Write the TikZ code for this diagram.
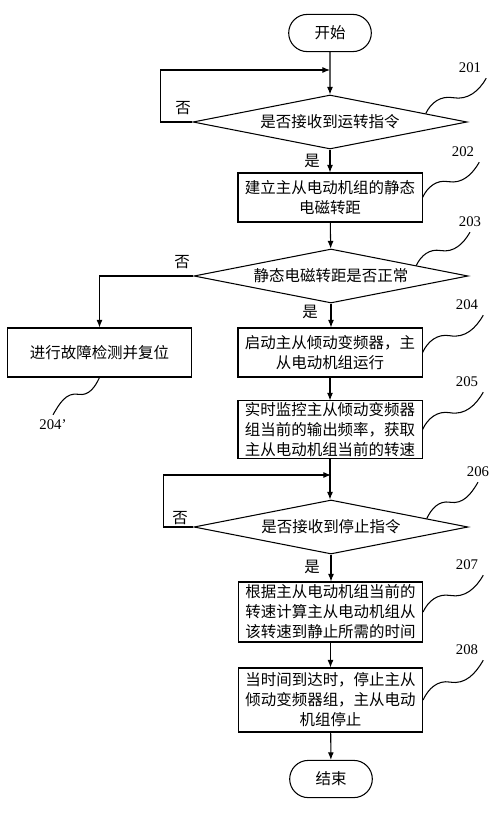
\documentclass[tikz,border=0pt]{standalone}
\usepackage{fontspec}
\setmainfont{Liberation Serif}
\newfontfamily\cjk{Noto Sans CJK SC}
\usetikzlibrary{shapes.geometric,shapes.misc,arrows.meta,calc}

\tikzset{
  cjktext/.style={font=\cjk\fontsize{11}{14.2}\selectfont},
  terminal/.style={draw, rounded rectangle, minimum width=2.3cm, minimum height=0.93cm, cjktext},
  decision/.style={draw, diamond, aspect=5, inner sep=0pt, minimum width=6.85cm, minimum height=1.35cm, cjktext},
  process/.style={draw, rectangle, minimum width=4.6cm, inner xsep=2pt, inner ysep=1pt, align=center, cjktext},
  tag/.style={font=\fontsize{10.5}{12}\selectfont},
  yesno/.style={cjktext},
  flow/.style={-{Latex[length=1.9mm,width=1.5mm]}}
}

\begin{document}
\begin{tikzpicture}[x=0.025cm, y=0.025cm, line width=0.75pt]
  \useasboundingbox (0,0) rectangle (500,-814);

  \node[terminal] (start) at (330,-33) {开始};
  \node[decision] (d1) at (330,-122) {是否接收到运转指令};
  \node[process, minimum height=1.225cm] (b202) at (330,-197.5) {建立主从电动机组的静态\\电磁转距};
  \node[decision] (d2) at (331,-276) {静态电磁转距是否正常};
  \node[process, minimum height=1.225cm] (b204p) at (99.5,-352.5) {进行故障检测并复位};
  \node[process, minimum height=1.225cm] (b204) at (330,-352.5) {启动主从倾动变频器，主\\从电动机组运行};
  \node[process, minimum height=1.375cm] (b205) at (330,-429.5) {实时监控主从倾动变频器\\组当前的输出频率，获取\\主从电动机组当前的转速};
  \node[decision] (d3) at (331,-527) {是否接收到停止指令};
  \node[process, minimum height=1.5cm] (b207) at (330.5,-612) {根据主从电动机组当前的\\转速计算主从电动机组从\\该转速到静止所需的时间};
  \node[process, minimum height=1.6cm] (b208) at (330.5,-700) {当时间到达时，停止主从\\倾动变频器组，主从电动\\机组停止};
  \node[terminal] (end) at (331,-779) {结束};

  \coordinate (j1) at (330,-70);
  \coordinate (j2) at (331,-475);

  \node[yesno] (no1) at (183,-108) {否};
  \node[yesno] (yes1) at (312,-161) {是};
  \node[yesno] (no2) at (182,-262) {否};
  \node[yesno] (yes2) at (310,-312) {是};
  \node[yesno] (no3) at (180,-518) {否};
  \node[yesno] (yes3) at (312,-567) {是};

  \node[tag] (l201) at (470,-68) {201};
  \node[tag] (l202) at (463,-152) {202};
  \node[tag] (l203) at (470,-222) {203};
  \node[tag] (l204) at (467,-305) {204};
  \node[tag] (l204p) at (53,-425) {204’};
  \node[tag] (l205) at (467,-382) {205};
  \node[tag] (l206) at (478,-472) {206};
  \node[tag] (l207) at (467,-565) {207};
  \node[tag] (l208) at (467,-650) {208};

  \draw[flow] (start) -- (d1);
  \draw[flow] (d1.west) -- ++(-32,0) |- (j1);
  \draw[flow] (d1) -- (b202);
  \draw[flow] (b202) -- (d2);
  \draw[flow] (d2.west) -| (b204p.north);
  \draw[flow] (d2.south) -- (b204.north -| d2.south);
  \draw[flow] (b204) -- (b205);
  \draw[flow] (b205.south) -- (d3.north -| b205.south);
  \draw[flow] (d3.west) -- ++(-30,0) |- (j2);
  \draw[flow] (d3.south) -- (b207.north -| d3.south);
  \draw[flow] (b207) -- (b208);
  \draw[flow] (b208) -- (end);

  % reference squiggles
  \draw (d1.5) to[out=65,in=170] ($(d1.5)!0.45!(l201.south east)$) to[out=-10,in=240] (l201.south east);
  \draw (b202.east) to[out=65,in=170] ($(b202.east)!0.45!(l202.south east)$) to[out=-10,in=240] (l202.south east);
  \draw (d2.7) to[out=65,in=170] ($(d2.7)!0.45!(l203.south)$) to[out=-10,in=240] (l203.south);
  \draw (b204.east) to[out=65,in=170] ($(b204.east)!0.45!(l204.south east)$) to[out=-10,in=240] (l204.south east);
  \draw (b205.east) to[out=65,in=170] ($(b205.east)!0.45!(l205.south east)$) to[out=-10,in=240] (l205.south east);
  \draw (d3.5) to[out=65,in=170] ($(d3.5)!0.45!(l206.south)$) to[out=-10,in=240] (l206.south);
  \draw (b207.east) to[out=65,in=170] ($(b207.east)!0.45!(l207.south east)$) to[out=-10,in=240] (l207.south east);
  \draw (b208.east) to[out=65,in=170] ($(b208.east)!0.45!(l208.south east)$) to[out=-10,in=240] (l208.south east);
  \draw (b204p.south) to[out=245,in=-10] ($(b204p.south)!0.45!(l204p.north)$) to[out=170,in=60] (l204p.north);
\end{tikzpicture}
\end{document}
